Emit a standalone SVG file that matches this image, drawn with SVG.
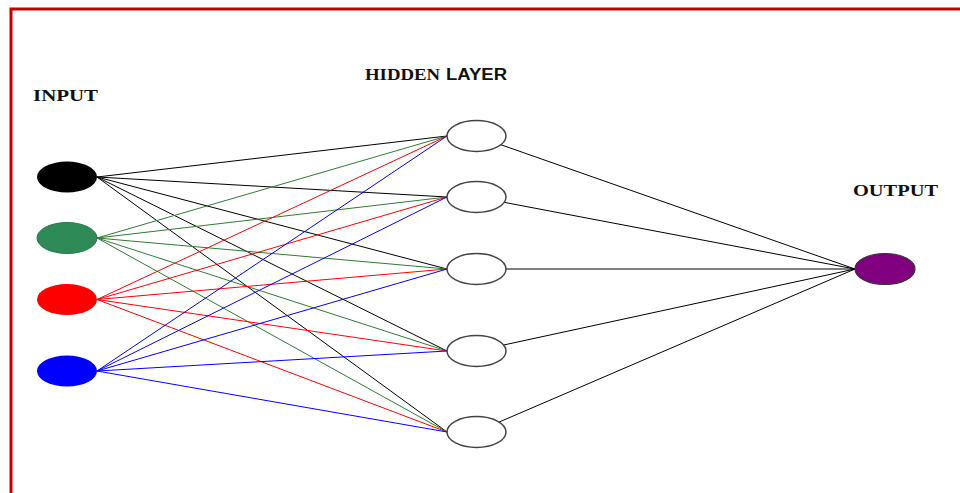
<svg xmlns="http://www.w3.org/2000/svg" width="960" height="493" viewBox="0 0 960 493">
<style>
.lbl{font-family:"Liberation Serif","Times New Roman",serif;font-weight:bold;font-size:16px;fill:#111}
.sans{font-family:"Liberation Sans",Arial,sans-serif}
.c line{stroke-width:1}
.k{stroke:#000}.g{stroke:#2e7d32}.r{stroke:#ff0000}.b{stroke:#0000ff}
.h{fill:#fff;stroke:#444;stroke-width:1.5}
</style>
<rect width="960" height="493" fill="#fff"/>
<path d="M11,495 V9 H962" fill="none" stroke="#c40000" stroke-width="3"/>
<text class="lbl" x="33" y="101" textLength="65" lengthAdjust="spacingAndGlyphs">INPUT</text>
<text class="lbl" x="365" y="79.5"><tspan textLength="75" lengthAdjust="spacingAndGlyphs">HIDDEN</tspan><tspan class="sans" x="446" textLength="61" lengthAdjust="spacingAndGlyphs">LAYER</tspan></text>
<text class="lbl" x="853" y="195.5" textLength="85" lengthAdjust="spacingAndGlyphs">OUTPUT</text>
<g id="connectors" class="c">
<g class="k">
<line x1="97" y1="177" x2="447" y2="136"/><line x1="97" y1="177" x2="447" y2="197"/><line x1="97" y1="177" x2="447" y2="269"/><line x1="97" y1="177" x2="447" y2="351"/><line x1="97" y1="177" x2="447" y2="432"/>
</g>
<g class="g">
<line x1="97" y1="238" x2="447" y2="136"/><line x1="97" y1="238" x2="447" y2="197"/><line x1="97" y1="238" x2="447" y2="269"/><line x1="97" y1="238" x2="447" y2="351"/><line x1="97" y1="238" x2="447" y2="432"/>
</g>
<g class="r">
<line x1="97" y1="299.5" x2="447" y2="136"/><line x1="97" y1="299.5" x2="447" y2="197"/><line x1="97" y1="299.5" x2="447" y2="269"/><line x1="97" y1="299.5" x2="447" y2="351"/><line x1="97" y1="299.5" x2="447" y2="432"/>
</g>
<g class="b">
<line x1="97" y1="371" x2="447" y2="136"/><line x1="97" y1="371" x2="447" y2="197"/><line x1="97" y1="371" x2="447" y2="269"/><line x1="97" y1="371" x2="447" y2="351"/><line x1="97" y1="371" x2="447" y2="432"/>
</g>
<g class="k">
<line x1="476" y1="136" x2="855" y2="269"/><line x1="476" y1="197" x2="855" y2="269"/><line x1="476" y1="269" x2="855" y2="269"/><line x1="476" y1="351" x2="855" y2="269"/><line x1="476" y1="432" x2="855" y2="269"/>
</g>
</g>
<g id="in1"><ellipse cx="67" cy="177" rx="30" ry="15.5" fill="#000"/></g>
<g id="in2"><ellipse cx="67" cy="238" rx="30" ry="15.5" fill="#2e8b57" stroke="#267a48"/></g>
<g id="in3"><ellipse cx="67" cy="299.5" rx="30" ry="15.5" fill="#ff0000"/></g>
<g id="in4"><ellipse cx="67" cy="371" rx="30" ry="15.5" fill="#0000ff"/></g>
<g id="h1"><ellipse class="h" cx="476.5" cy="136" rx="29.5" ry="15.5"/></g>
<g id="h2"><ellipse class="h" cx="476.5" cy="197" rx="29.5" ry="15.5"/></g>
<g id="h3"><ellipse class="h" cx="476.5" cy="269" rx="29.5" ry="15.5"/></g>
<g id="h4"><ellipse class="h" cx="476.5" cy="351" rx="29.5" ry="15.5"/></g>
<g id="h5"><ellipse class="h" cx="476.5" cy="432" rx="29.5" ry="15.5"/></g>
<g id="out"><ellipse cx="885" cy="269" rx="30" ry="15.5" fill="#800080" stroke="#333" stroke-width="1.2"/></g>
</svg>
